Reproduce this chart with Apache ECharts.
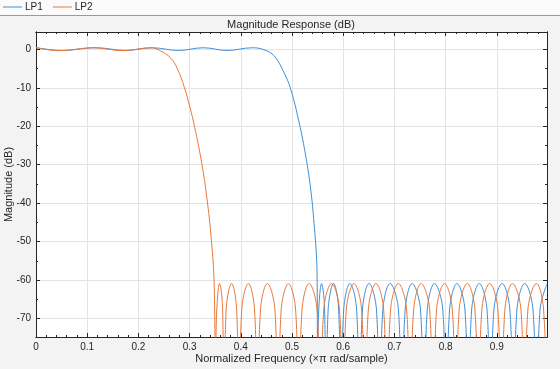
<!DOCTYPE html>
<html><head><meta charset="utf-8">
<script src="https://cdn.jsdelivr.net/npm/echarts@6/dist/echarts.min.js"></script>
<style>html,body{margin:0;padding:0;background:#f3f3f3}#c{width:560px;height:369px}</style>
</head><body><div id="c"></div>
<script>
// ---- data ----
const seriesNames = ['LP1', 'LP2'];
const lp1Freq = [0, 0.05, 0.117, 0.175, 0.227, 0.278, 0.327, 0.373, 0.4225, 0.445, 0.465, 0.4845, 0.4975, 0.514, 0.527, 0.5367, 0.543, 0.5478, 0.5492, 0.5498,
  0.5522, 0.5577, 0.5637, 0.5661,
  0.5705, 0.5812, 0.5911, 0.5955,
  0.6009, 0.6131, 0.6263, 0.6317,
  0.6376, 0.6503, 0.6650, 0.6709,
  0.6774, 0.6915, 0.7079, 0.7144,
  0.7209, 0.7346, 0.7510, 0.7575,
  0.7641, 0.7782, 0.7946, 0.8012,
  0.8077, 0.8221, 0.8378, 0.8443,
  0.8508, 0.8658, 0.8809, 0.8874,
  0.8942, 0.9103, 0.9256, 0.9324,
  0.9392, 0.9545, 0.9707, 0.9775,
  0.9843, 0.998];
const lp1Mag = [0.45, -0.3, 0.4, -0.3, 0.4, -0.3, 0.4, -0.3, 0.4, -0.1, -1.7, -6.1, -10.4, -19.1, -27.9, -36.6, -45.2, -54, -62, -82,
  -67.8, -60.9, -67.8, -100,
  -67.8, -60.9, -67.8, -100,
  -67.8, -60.9, -67.8, -100,
  -67.8, -60.9, -67.8, -100,
  -67.8, -60.9, -67.8, -100,
  -67.8, -60.9, -67.8, -100,
  -67.8, -60.9, -67.8, -100,
  -67.8, -60.9, -67.8, -100,
  -67.8, -60.9, -67.8, -100,
  -67.8, -60.9, -67.8, -100,
  -67.8, -60.9, -67.8, -100,
  -67.8, -61];
const lp2Freq = [0, 0.045, 0.113, 0.17, 0.225, 0.243, 0.2625, 0.276, 0.290, 0.3005, 0.3095, 0.3242, 0.335, 0.3428, 0.3477, 0.3506,
  0.3530, 0.3585, 0.3645, 0.3669,
  0.3713, 0.3820, 0.3919, 0.3963,
  0.4017, 0.4147, 0.4269, 0.4323,
  0.4384, 0.4519, 0.4666, 0.4727,
  0.4788, 0.4930, 0.5071, 0.5132,
  0.5195, 0.5334, 0.5490, 0.5553,
  0.5619, 0.5773, 0.5928, 0.5994,
  0.6059, 0.6210, 0.6360, 0.6425,
  0.6490, 0.6640, 0.6791, 0.6856,
  0.6924, 0.7077, 0.7239, 0.7307,
  0.7375, 0.7522, 0.7689, 0.7757,
  0.7823, 0.7978, 0.8132, 0.8198,
  0.8264, 0.8423, 0.8573, 0.8639,
  0.8707, 0.8860, 0.9021, 0.9089,
  0.9157, 0.9305, 0.9472, 0.9540,
  0.9606, 0.9775, 0.9914, 0.998];
const lp2Mag = [0.45, -0.35, 0.4, -0.35, 0.4, -0.4, -2.2, -5, -10, -15, -20, -30, -40, -50, -60, -82,
  -67.8, -60.9, -67.8, -100,
  -67.8, -60.9, -67.8, -100,
  -67.8, -60.9, -67.8, -100,
  -67.8, -60.9, -67.8, -100,
  -67.8, -60.9, -67.8, -100,
  -67.8, -60.9, -67.8, -100,
  -67.8, -60.9, -67.8, -100,
  -67.8, -60.9, -67.8, -100,
  -67.8, -60.9, -67.8, -100,
  -67.8, -60.9, -67.8, -100,
  -67.8, -60.9, -67.8, -100,
  -67.8, -60.9, -67.8, -100,
  -67.8, -60.9, -67.8, -100,
  -67.8, -60.9, -67.8, -100,
  -67.8, -60.9, -67.8, -100,
  -67.8, -60.9, -67.8, -100];
const xTickLabels = [0, 0.1, 0.2, 0.3, 0.4, 0.5, 0.6, 0.7, 0.8, 0.9];
const yTickLabels = [0, -10, -20, -30, -40, -50, -60, -70];
const xMinorTicks = [0.02,0.04,0.06,0.08,0.12,0.14,0.16,0.18,0.22,0.24,0.26,0.28,0.32,0.34,0.36,0.38,0.42,0.44,0.46,0.48,0.52,0.54,0.56,0.58,0.62,0.64,0.66,0.68,0.72,0.74,0.76,0.78,0.82,0.84,0.86,0.88,0.92,0.94,0.96,0.98];
const yMinorTicks = [-5, -15, -25, -35, -45, -55, -65];

const X_MIN = 0, X_MAX = 0.998, Y_MIN = -74.8, Y_MAX = 4.5;
const FONT = 'Liberation Sans, Arial, Helvetica, sans-serif';
const TXT = '#262626';
const COLORS = ['#3f8fd6', '#e8773a'];

function pairs(f, m) { return f.map((v, i) => [v, m[i]]); }

function xAx(pos, opts) {
  return Object.assign({
    type: 'value', min: X_MIN, max: X_MAX, position: pos, gridIndex: 0,
    axisLine: { show: true, onZero: false, lineStyle: { color: TXT, width: 1 } },
    axisTick: { show: true, inside: true, length: 4, customValues: xTickLabels, lineStyle: { color: TXT } },
    axisLabel: { show: false },
    splitLine: { show: false }
  }, opts);
}
function yAx(pos, opts) {
  return Object.assign({
    type: 'value', min: Y_MIN, max: Y_MAX, position: pos, gridIndex: 0,
    axisLine: { show: true, onZero: false, lineStyle: { color: TXT, width: 1 } },
    axisTick: { show: true, inside: true, length: 4, customValues: yTickLabels, lineStyle: { color: TXT } },
    axisLabel: { show: false },
    splitLine: { show: false }
  }, opts);
}

const chart = echarts.init(document.getElementById('c'), null, { renderer: 'canvas' });
chart.setOption({
  animation: false,
  backgroundColor: '#f3f3f3',
  textStyle: { fontFamily: FONT },
  graphic: [
    { type: 'rect', left: 0, top: 0, shape: { width: 560, height: 15 }, style: { fill: '#fbfbfb' }, z: -1 },
    { type: 'line', shape: { x1: 0, y1: 15.5, x2: 560, y2: 15.5 }, style: { stroke: '#9a9a9a', lineWidth: 1 } }
  ],
  title: {
    text: 'Magnitude Response (dB)', left: 291, top: 19, textAlign: 'center', padding: 0,
    textStyle: { fontSize: 11, fontWeight: 'normal', color: TXT, fontFamily: FONT }
  },
  legend: {
    data: seriesNames, left: 3, top: 2, padding: 0, icon: 'rect', itemWidth: 19, itemHeight: 1, itemGap: 10,
    textStyle: { fontSize: 10, color: TXT, fontFamily: FONT, padding: [0, 0, 0, -2] }
  },
  grid: { left: 36, right: 13, top: 32, bottom: 32, show: true, backgroundColor: '#ffffff', borderWidth: 0,
    containLabel: false, outerBoundsMode: 'none' },
  xAxis: [
    xAx('bottom', {
      name: 'Normalized Frequency (\u00d7\u03c0 rad/sample)', nameLocation: 'middle', nameGap: 16, nameMoveOverlap: false,
      nameTextStyle: { fontSize: 11, color: TXT, fontFamily: FONT, verticalAlign: 'top' },
      axisLabel: { show: true, customValues: xTickLabels, fontSize: 10, color: TXT, margin: 5, fontFamily: FONT,
        formatter: v => String(Math.round(v * 10) / 10) },
      splitLine: { show: true, lineStyle: { color: '#e4e4e4', width: 1 } }
    }),
    xAx('top', {}),
    xAx('bottom', { axisTick: { show: true, inside: true, length: 2, customValues: xMinorTicks, lineStyle: { color: TXT } } }),
    xAx('top', { axisTick: { show: true, inside: true, length: 2, customValues: xMinorTicks, lineStyle: { color: TXT } } })
  ],
  yAxis: [
    yAx('left', {
      name: 'Magnitude (dB)', nameLocation: 'middle', nameGap: 22, nameRotate: 90, nameMoveOverlap: false,
      nameTextStyle: { fontSize: 11, color: TXT, fontFamily: FONT },
      axisLabel: { show: true, customValues: yTickLabels, fontSize: 10, color: TXT, margin: 5, fontFamily: FONT },
      splitLine: { show: true, lineStyle: { color: '#e4e4e4', width: 1 } }
    }),
    yAx('right', {}),
    yAx('left', { axisTick: { show: true, inside: true, length: 2, customValues: yMinorTicks, lineStyle: { color: TXT } } }),
    yAx('right', { axisTick: { show: true, inside: true, length: 2, customValues: yMinorTicks, lineStyle: { color: TXT } } })
  ],
  series: [
    { name: seriesNames[0], type: 'line', data: pairs(lp1Freq, lp1Mag), showSymbol: false, smooth: 0.4, clip: true,
      color: COLORS[0], lineStyle: { width: 1, color: COLORS[0] }, xAxisIndex: 0, yAxisIndex: 0 },
    { name: seriesNames[1], type: 'line', data: pairs(lp2Freq, lp2Mag), showSymbol: false, smooth: 0.4, clip: true,
      color: COLORS[1], lineStyle: { width: 1, color: COLORS[1] }, xAxisIndex: 0, yAxisIndex: 0 }
  ]
});
</script>
</body></html>
